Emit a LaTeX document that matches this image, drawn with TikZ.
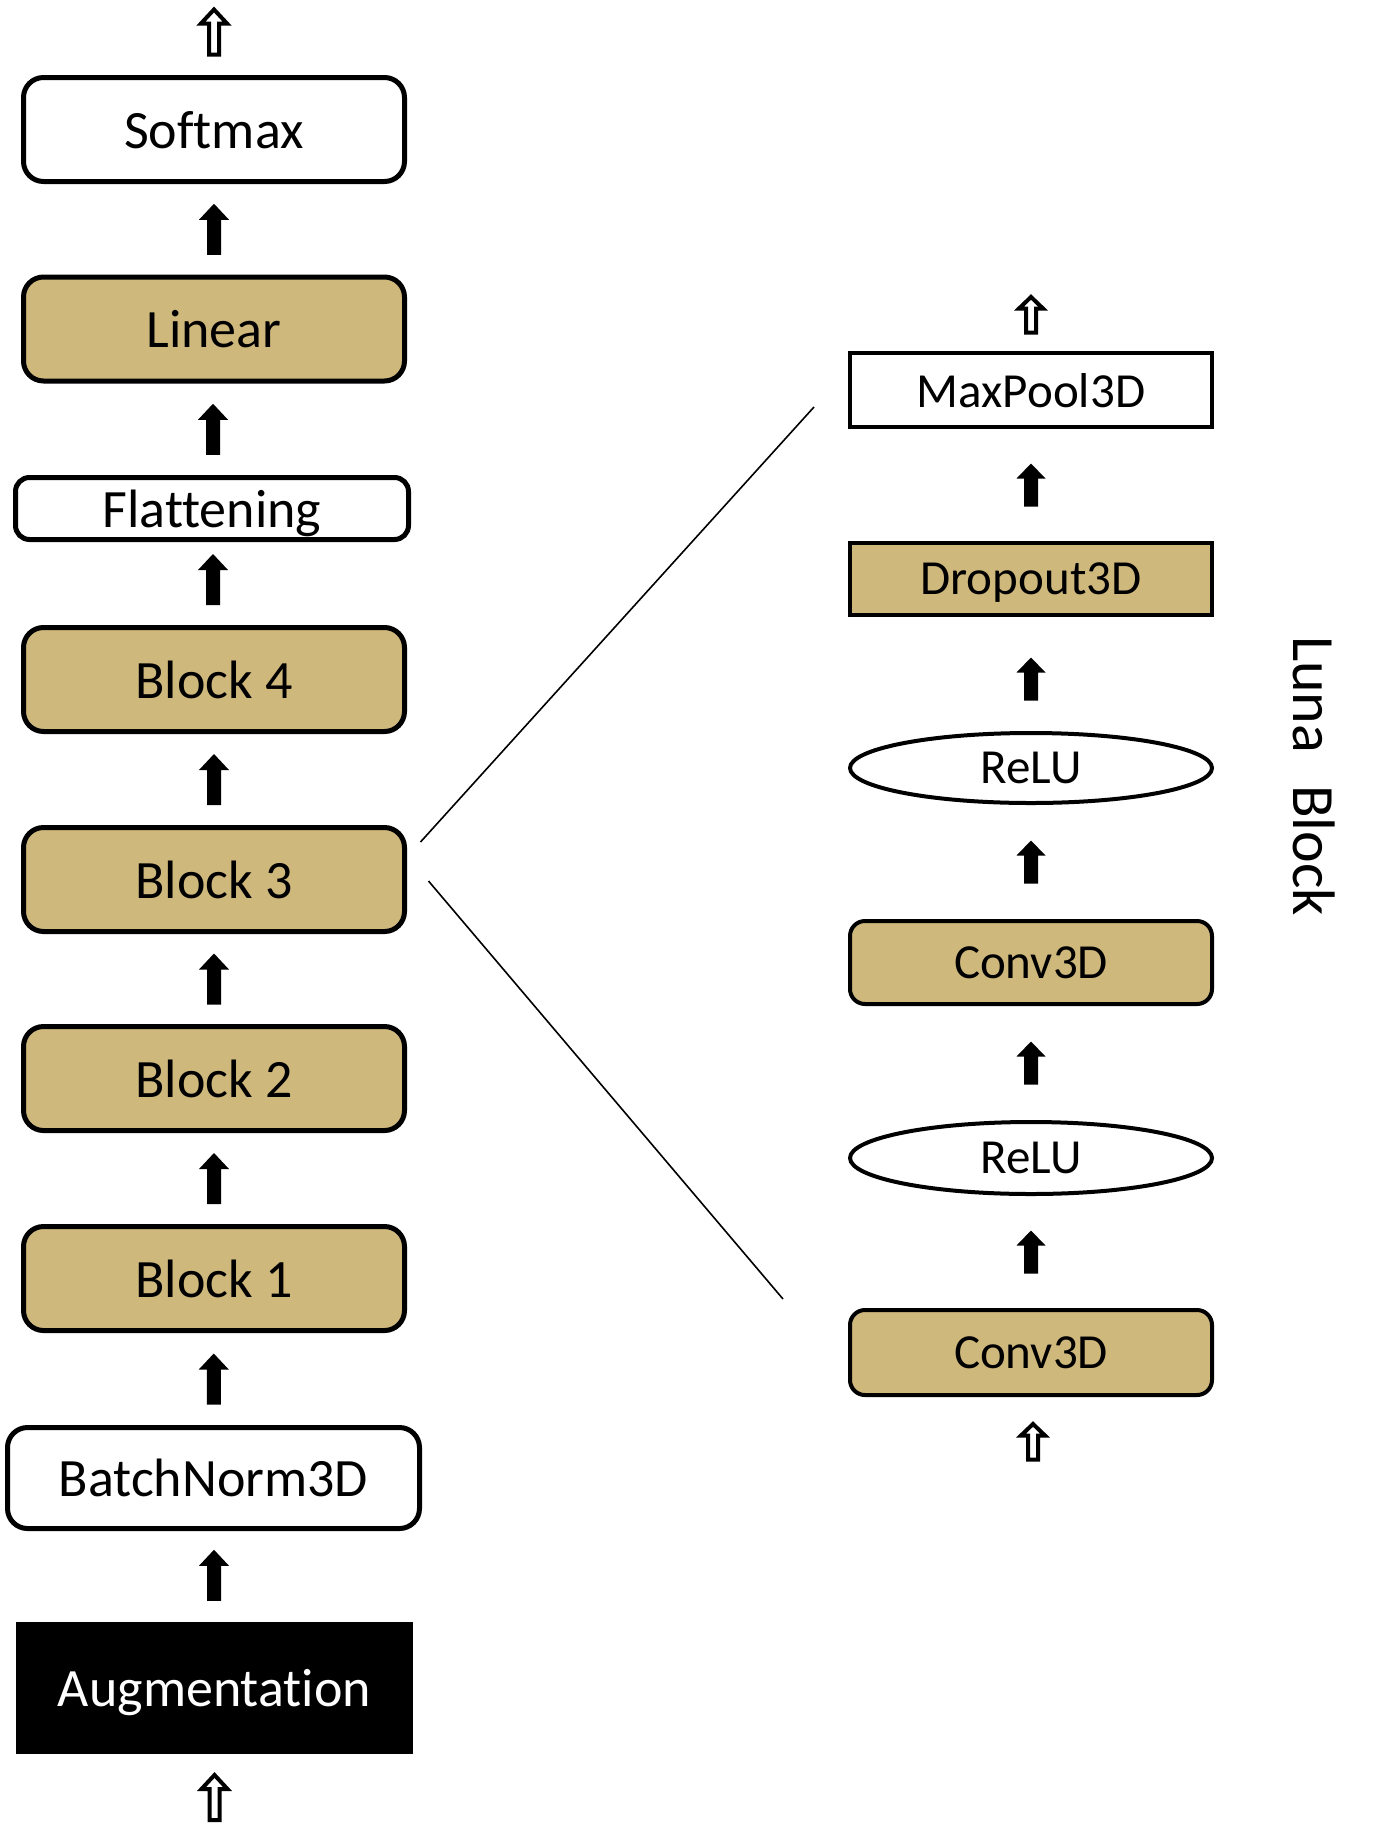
\documentclass[tikz,border=0pt]{standalone}
\usepackage{fontspec}
\setmainfont{Carlito}[Ligatures={NoCommon}]
\usetikzlibrary{calc,shapes.geometric}
\definecolor{lunagold}{RGB}{207,184,124}
\tikzset{
  x=1pt, y=1pt,
  lbox/.style={draw, line width=5pt, rounded corners=20pt, minimum width=381pt,
    minimum height=104pt, inner sep=0pt, outer sep=0pt, text depth=0pt, font=\fontsize{54}{60}\selectfont},
  gold/.style={fill=lunagold},
  rbox/.style={draw, line width=4pt, minimum width=362pt, inner sep=0pt, outer sep=0pt, text depth=0pt,
    font=\fontsize{49}{55}\selectfont},
  pics/fillbig/.style={code={\fill (-7,-25.5) -- (7,-25.5) -- (7,9.5) -- (15,9.5) -- (0,25.5) -- (-15,9.5) -- (-7,9.5) -- cycle;}},
  pics/fillsmall/.style={code={\fill (-7,-21.5) -- (7,-21.5) -- (7,6.5) -- (14.5,6.5) -- (0,21.5) -- (-14.5,6.5) -- (-7,6.5) -- cycle;}},
  pics/openbig/.style={code={\draw[line width=4pt, fill=white] (-5,-23) -- (5,-23) -- (5,8) -- (13,8) -- (0,22) -- (-13,8) -- (-5,8) -- cycle;}},
  pics/opensmall/.style={code={\draw[line width=4pt, fill=white] (-5,-18.5) -- (5,-18.5) -- (5,5.5) -- (12,5.5) -- (0,17) -- (-12,5.5) -- (-5,5.5) -- cycle;}},
  thinline/.style={line width=1.6pt},
}
\begin{document}
\begin{tikzpicture}
\useasboundingbox (0,0) rectangle (1375,-1824);
% left column
\node[lbox] (softmax) at (214,-129.5) {Softmax};
\node[lbox, gold] (linear) at (214,-329) {Linear};
\node[lbox, minimum width=393pt, minimum height=62pt, rounded corners=14pt] (flat) at (212,-508.5) {Flattening};
\node[lbox, gold] (b4) at (214,-679.5) {Block 4};
\node[lbox, gold] (b3) at (214,-879.5) {Block 3};
\node[lbox, gold] (b2) at (214,-1078.5) {Block 2};
\node[lbox, gold] (b1) at (214,-1278.5) {Block 1};
\node[lbox, minimum width=412pt, minimum height=101pt] (bn) at (213.5,-1478) {BatchNorm3D};
\node[fill=black, text=white, minimum width=397pt, minimum height=132pt, inner sep=0pt, outer sep=0pt,
  text depth=0pt, font=\fontsize{54}{60}\selectfont] (aug) at (214.5,-1688) {Augmentation};

\pic at ($(softmax.north)+(0,46)$) {openbig};
\pic at ($(softmax.south)!0.5!(linear.north)$) {fillbig};
\pic at ($(linear.south)!0.5!(flat.north)$) {fillbig};
\pic at ($(flat.south)!0.5!(b4.north)+(0,4)$) {fillbig};
\pic at ($(b4.south)!0.5!(b3.north)$) {fillbig};
\pic at ($(b3.south)!0.5!(b2.north)$) {fillbig};
\pic at ($(b2.south)!0.5!(b1.north)$) {fillbig};
\pic at ($(b1.south)!0.5!(bn.north)$) {fillbig};
\pic at ($(bn.south)!0.5!(aug.north)$) {fillbig};
\pic at ($(aug.south)+(0,-43)$) {openbig};

% right column
\node[rbox, minimum height=74pt] (maxpool) at (1031,-390) {MaxPool3D};
\node[rbox, gold, minimum height=72pt] (drop) at (1031,-579) {Dropout3D};
\node[rbox, ellipse, minimum height=70pt] (relu1) at (1031,-768) {ReLU};
\node[rbox, gold, rounded corners=15pt, minimum height=83pt] (conv1) at (1031,-962.5) {Conv3D};
\node[rbox, ellipse, minimum height=72pt] (relu2) at (1031,-1158) {ReLU};
\node[rbox, gold, rounded corners=15pt, minimum height=85pt] (conv2) at (1031,-1352.5) {Conv3D};

\pic at ($(maxpool.north)+(0,39)$) {opensmall};
\pic at ($(maxpool.south)!0.5!(drop.north)$) {fillsmall};
\pic at ($(drop.south)!0.5!(relu1.north)+(0,-5)$) {fillsmall};
\pic at ($(relu1.south)!0.5!(conv1.north)$) {fillsmall};
\pic at ($(conv1.south)!0.5!(relu2.north)$) {fillsmall};
\pic at ($(relu2.south)!0.5!(conv2.north)$) {fillsmall};
\pic at ($(conv2.south)+(2,-46)$) {opensmall};

\node[rotate=-90, anchor=base, inner sep=0pt, font=\fontsize{60}{66}\selectfont] (luna) at (1293,-776) {Luna\hspace{32pt}Block};

% zoom lines
\coordinate (l1a) at ($(b3.east)+(16,37.5)$);
\coordinate (l1b) at ($(maxpool.west)+(-36,-17)$);
\coordinate (l2a) at ($(b3.east)+(24,-1.5)$);
\coordinate (l2b) at ($(conv2.west)+(-67,53.5)$);
\draw[thinline] (l1a) -- (l1b);
\draw[thinline] (l2a) -- (l2b);
\end{tikzpicture}
\end{document}
